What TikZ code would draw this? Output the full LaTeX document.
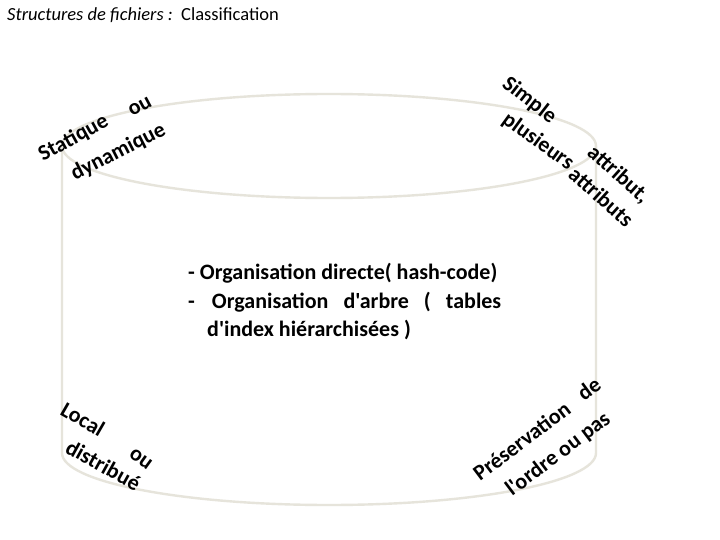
\documentclass[tikz,border=0pt]{standalone}
\usepackage{fontspec}
\setmainfont{Carlito}[Ligatures=TeXOff]
\definecolor{cyl}{HTML}{E6E4DB}
\tikzset{
  cylline/.style={draw=cyl, line width=2.4pt},
  lbl/.style={font=\bfseries\fontsize{22}{22}\selectfont, inner sep=0pt, anchor=base west},
  body/.style={font=\bfseries\fontsize{22}{22}\selectfont, inner sep=0pt, anchor=base west}
}
\begin{document}
\begin{tikzpicture}[x=1pt,y=-1pt]
\useasboundingbox (0,0) rectangle (720,540);
\fill[white] (0,0) rectangle (720,540);
% cylinder
\draw[cylline] (329,146) ellipse [x radius=267pt, y radius=52pt];
\draw[cylline] (62,146) -- (62,453) arc[start angle=180,end angle=360,x radius=267pt,y radius=52pt] -- (596,146);
% title
\node[anchor=base west, inner sep=0pt, font=\fontsize{18.5}{20}\selectfont] (title) at (7,21) {\textit{Structures de fichiers :}\ \ Classification};
% body
\node[body] (l1) at (188,279) {- Organisation directe( hash-code)};
\node[body] (l2) at (188,308) {\makebox[313pt][s]{-\hspace{2pt} Organisation d'arbre ( tables}};
\node[body] (l3) at (207,336) {d'index hiérarchisées )};
% top left
\node[lbl, rotate=29] (stat) at (43,162) {Statique};
\node[lbl, rotate=28] (ou1) at (132,117) {ou};
\node[lbl, rotate=27] (dyn) at (75,181) {dynamique};
% top right
\node[lbl, rotate=-38] (simple) at (501,86) {Simple};
\node[lbl, rotate=-42] (attr1) at (586,154) {attribut,};
\node[lbl, rotate=-36] (plus) at (501,122) {plusieurs};
\node[lbl, rotate=-42] (attr2) at (567,176) {attributs};
% bottom left
\node[lbl, rotate=-30] (local) at (59,414) {Local};
\node[lbl, rotate=-36] (ou2) at (128,456) {ou};
\node[lbl, rotate=-29] (distr) at (64,452) {distribué};
% bottom right
\node[lbl, rotate=37] (pres) at (480,482) {Préservation};
\node[lbl, rotate=36] (de) at (584,402) {de};
\node[lbl, rotate=37] (ordre) at (512,497) {l'ordre ou pas};
\end{tikzpicture}
\end{document}
